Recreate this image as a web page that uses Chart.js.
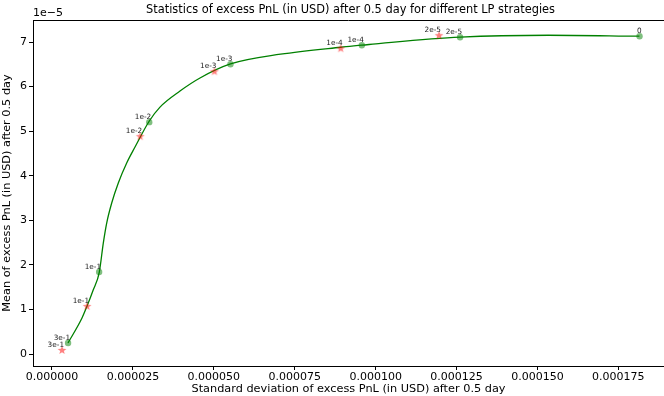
<!DOCTYPE html>
<html>
<head>
<meta charset="utf-8">
<script src="https://cdn.jsdelivr.net/npm/chart.js@4"></script>
<style>
  html, body { margin: 0; padding: 0; background: #fff; }
</style>
</head>
<body>
<canvas id="myChart" width="664" height="396"></canvas>
<script>
const ctx = document.getElementById('myChart');

// all values in units of 1e-5 USD
const curveStd  = [0.494, 0.927, 1.084, 1.276, 1.462, 1.585, 1.690, 1.845, 2.049, 2.308, 2.565, 3.007, 3.337, 3.955, 4.573, 5.514, 7.063, 8.922, 9.573, 10.161, 12.609, 15.335, 18.154];
const curveMean = [0.247, 0.808, 1.077, 1.440, 1.840, 2.490, 2.939, 3.388, 3.837, 4.285, 4.644, 5.228, 5.540, 5.900, 6.192, 6.507, 6.726, 6.883, 6.928, 6.970, 7.108, 7.152, 7.130];

const greenLabels = ['3e-1', '1e-1', '1e-2', '1e-3', '1e-4', '2e-5', '0'];
const greenStd    = [0.496, 1.456, 3.005, 5.514, 9.573, 12.609, 18.154];
const greenMean   = [0.247, 1.839, 5.202, 6.502, 6.928, 7.108, 7.130];

const redLabels = ['3e-1', '1e-1', '1e-2', '1e-3', '1e-4', '2e-5'];
const redStd    = [0.310, 1.084, 2.726, 5.019, 8.922, 11.958];
const redMean   = [0.090, 1.076, 4.888, 6.345, 6.861, 7.152];

const xTicks = [0, 2.5, 5, 7.5, 10, 12.5, 15, 17.5];
const yTicks = [0, 1, 2, 3, 4, 5, 6, 7];

const FONT = 'DejaVu Sans';

function pts(xs, ys) {
  return xs.map((x, i) => ({ x: x, y: ys[i] }));
}

// filled star like matplotlib '*'
const star = document.createElement('canvas');
star.width = 10; star.height = 10;
(function () {
  const c = star.getContext('2d');
  c.fillStyle = 'rgba(255,0,0,0.5)';
  c.beginPath();
  for (let i = 0; i < 10; i++) {
    const r = i % 2 === 0 ? 4.6 : 1.9;
    const a = -Math.PI / 2 + i * Math.PI / 5;
    const px = 5 + r * Math.cos(a), py = 5.4 + r * Math.sin(a);
    if (i === 0) c.moveTo(px, py); else c.lineTo(px, py);
  }
  c.closePath();
  c.fill();
})();

const extras = {
  id: 'extras',
  afterDatasetsDraw(chart) {
    const c = chart.ctx;
    c.save();
    c.fillStyle = '#222';
    c.font = '7.3px "' + FONT + '"';
    c.textAlign = 'right';
    c.textBaseline = 'alphabetic';
    [[1, greenLabels], [2, redLabels]].forEach(([idx, labels]) => {
      chart.getDatasetMeta(idx).data.forEach((el, i) => {
        c.fillText(labels[i], el.x + 2, el.y - 3);
      });
    });
    c.restore();
  },
  afterDraw(chart) {
    const c = chart.ctx;
    const area = chart.chartArea;
    c.save();
    // top spine
    c.strokeStyle = '#000';
    c.lineWidth = 1;
    c.beginPath();
    c.moveTo(area.left, area.top + 0.5);
    c.lineTo(area.right, area.top + 0.5);
    c.stroke();
    // title
    c.fillStyle = '#000';
    c.font = '11.4px "' + FONT + '"';
    c.textAlign = 'center';
    c.textBaseline = 'middle';
    c.fillText('Statistics of excess PnL (in USD) after 0.5 day for different LP strategies', (area.left + area.right) / 2 + 2, 10);
    // offset text
    c.font = '11px "' + FONT + '"';
    c.textAlign = 'left';
    c.textBaseline = 'bottom';
    c.fillText('1e\u22125', area.left, area.top - 1);
    c.restore();
  }
};

new Chart(ctx, {
  type: 'line',
  data: {
    datasets: [{
      label: 'fit',
      data: pts(curveStd, curveMean),
      borderColor: 'green',
      borderWidth: 1.3,
      pointRadius: 0,
      fill: false,
      cubicInterpolationMode: 'monotone',
      order: 3
    }, {
      label: 'green',
      data: pts(greenStd, greenMean),
      showLine: false,
      pointStyle: 'circle',
      pointRadius: 3.2,
      borderWidth: 0,
      backgroundColor: 'rgba(0,128,0,0.5)',
      borderColor: 'rgba(0,128,0,0.5)',
      order: 1
    }, {
      label: 'red',
      data: pts(redStd, redMean),
      showLine: false,
      pointStyle: star,
      order: 2
    }]
  },
  options: {
    responsive: false,
    animation: false,
    layout: { autoPadding: false, padding: { top: 20, right: 0, left: 0, bottom: 0 } },
    plugins: {
      legend: { display: false },
      tooltip: { enabled: false },
      title: { display: false }
    },
    scales: {
      x: {
        type: 'linear',
        min: -0.587,
        max: 18.91,
        afterBuildTicks: s => { s.ticks = xTicks.map(v => ({ value: v })); },
        afterFit: s => { s.height = 30; s.paddingLeft = 0; s.paddingRight = 0; },
        grid: { display: true, drawOnChartArea: false, drawTicks: true, tickLength: 4, color: '#000' },
        border: { display: true, color: '#000', width: 1 },
        ticks: {
          color: '#000',
          font: { family: FONT, size: 11 },
          padding: 1,
          maxRotation: 0,
          autoSkip: false,
          callback: v => (v * 1e-5).toFixed(6)
        },
        title: {
          display: true,
          text: 'Standard deviation of excess PnL (in USD) after 0.5 day',
          color: '#000',
          font: { family: FONT, size: 11.3 },
          padding: { top: 0, bottom: 0 }
        }
      },
      y: {
        type: 'linear',
        min: -0.269,
        max: 7.494,
        afterBuildTicks: s => { s.ticks = yTicks.map(v => ({ value: v })); },
        afterFit: s => { s.width = 33; s.paddingTop = 0; s.paddingBottom = 0; },
        grid: { display: true, drawOnChartArea: false, drawTicks: true, tickLength: 4, color: '#000' },
        border: { display: true, color: '#000', width: 1 },
        ticks: {
          color: '#000',
          font: { family: FONT, size: 11 },
          padding: 2,
          autoSkip: false,
          callback: v => String(v)
        },
        title: {
          display: true,
          text: 'Mean of excess PnL (in USD) after 0.5 day',
          color: '#000',
          font: { family: FONT, size: 11.3 },
          padding: { top: 0, bottom: 0 }
        }
      }
    }
  },
  plugins: [extras]
});
</script>
</body>
</html>
